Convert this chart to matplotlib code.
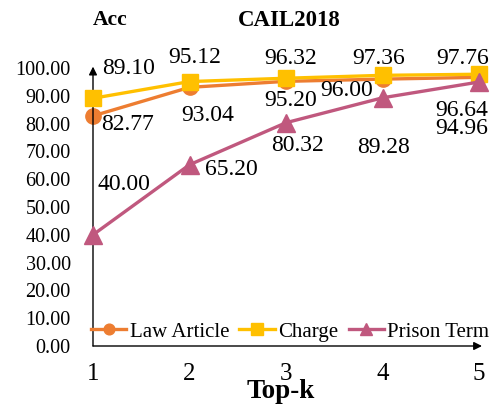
import matplotlib
matplotlib.use("Agg")
import matplotlib.pyplot as plt

plt.rcParams['font.family'] = ['Liberation Serif', 'DejaVu Serif']

topk = [1, 2, 3, 4, 5]
law_article = [82.77, 93.04, 95.20, 96.00, 96.64]
charge = [89.10, 95.12, 96.32, 97.36, 97.76]
prison_term = [40.00, 65.20, 80.32, 89.28, 94.96]
yticks = [0, 10, 20, 30, 40, 50, 60, 70, 80, 90, 100]

# label offsets in pixels (dx, dy)
law_off = [(35, -9), (18, -28), (5, -19), (-36, -11), (-17, -33)]
charge_off = [(36, 30), (5, 24), (5, 20), (-4, 17), (-16, 16)]
prison_off = [(31, 50), (42, -5), (12, -23), (1, -50), (-17, -46)]

W, H = 494, 405
fig = plt.figure(figsize=(W / 100, H / 100), dpi=100)
ax_l, ax_r = 93, 482
ax_b, ax_t = 346, 65
ax = fig.add_axes([ax_l / W, 1 - ax_b / H, (ax_r - ax_l) / W, (ax_b - ax_t) / H])
ax.set_xlim(1, 1 + (ax_r - ax_l) / 96.5)
ax.set_ylim(0, (ax_b - ax_t) / 2.78)

c_law = '#ED7D31'
c_charge = '#FFC000'
c_prison = '#C0587E'

ax.plot(topk, law_article, color=c_law, lw=2.4, marker='o', ms=11, label='Law Article', clip_on=False, zorder=3)
ax.plot(topk, charge, color=c_charge, lw=2.4, marker='s', ms=12, label='Charge', clip_on=False, zorder=4)
ax.plot(topk, prison_term, color=c_prison, lw=2.4, marker='^', ms=13, label='Prison Term', clip_on=False, zorder=5)

fs = 17
for vals, offs in [(law_article, law_off), (charge, charge_off), (prison_term, prison_off)]:
    for x, v, (dx, dy) in zip(topk, vals, offs):
        ax.annotate(f"{v:.2f}", (x, v), xytext=(dx, dy), textcoords='offset pixels',
                    ha='center', va='center', fontsize=fs, zorder=6)

for s in ax.spines.values():
    s.set_visible(False)
ax.annotate('', xy=(0, 100.5), xytext=(0, 0), xycoords=('axes fraction', 'data'),
            textcoords=('axes fraction', 'data'),
            arrowprops=dict(arrowstyle='-|>', color='black', lw=1.0, mutation_scale=12, shrinkA=0, shrinkB=0))
ax.annotate('', xy=(1, 0), xytext=(0, 0), xycoords='axes fraction',
            arrowprops=dict(arrowstyle='-|>', color='black', lw=1.0, mutation_scale=12, shrinkA=0, shrinkB=0))

ax.set_yticks(yticks)
ax.set_yticklabels([f"{v:.2f}" for v in yticks], fontsize=14.5)
ax.set_xticks(topk)
ax.set_xticklabels([str(k) for k in topk], fontsize=18)
ax.tick_params(axis='y', length=0, pad=16)
ax.tick_params(axis='x', length=0, pad=12)

fig.text(110 / W, 1 - 20 / H, 'Acc', fontsize=15.5, fontweight='bold', ha='center', va='center')
fig.text(289 / W, 1 - 20 / H, 'CAIL2018', fontsize=16.5, fontweight='bold', ha='center', va='center')
fig.text(281 / W, 1 - 391 / H, 'Top-k', fontsize=19.5, fontweight='bold', ha='center', va='center')

fig.legend(loc='center', bbox_to_anchor=(290 / W, 1 - 332 / H), ncol=3, frameon=False,
           fontsize=15, handlelength=1.7, handletextpad=0.15, columnspacing=0.5,
           markerscale=0.7, borderpad=0)

fig.savefig('out.png', dpi=100)
